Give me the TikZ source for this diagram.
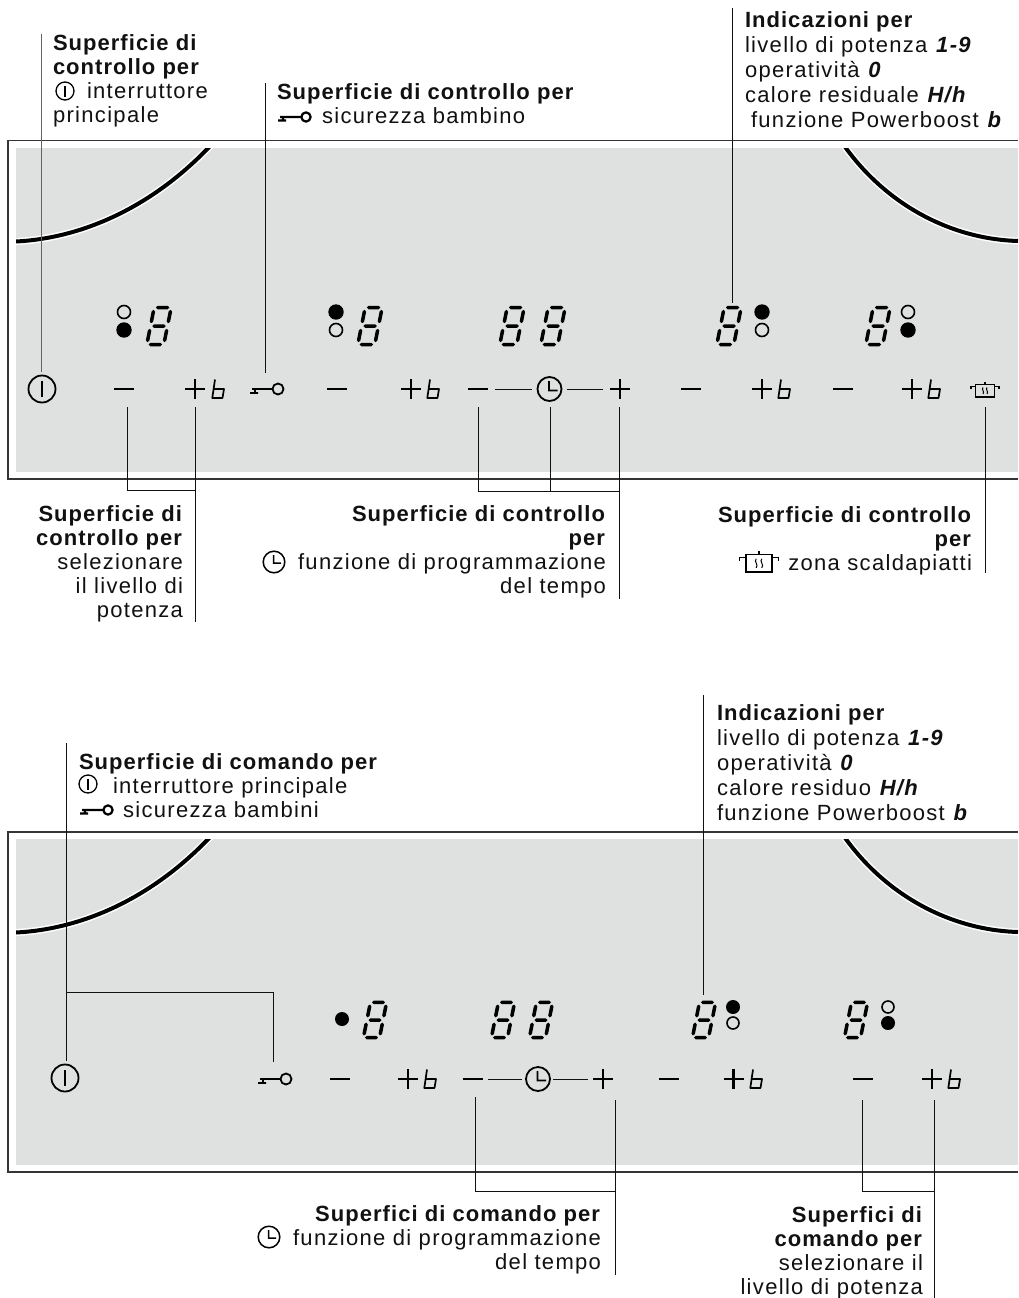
\documentclass[tikz,border=0pt]{standalone}
\usepackage{fontspec}
\setmainfont{Liberation Sans}[LetterSpace=6,BoldFeatures={LetterSpace=4.7}]
\definecolor{panel}{HTML}{DFE1E0}
\definecolor{ink}{HTML}{111111}
\tikzset{
  x=1pt,y=-1pt,
  frameline/.style={draw=ink!85,line width=1.8pt},
  panelfill/.style={fill=panel,draw=none},
  hob/.style={draw=black,line width=4pt},
  hobhalo/.style={draw=white,line width=7pt},
  leader/.style={draw=ink,line width=1pt},
  softleader/.style={draw=ink!65,line width=1.1pt},
  label/.style={inner sep=0pt,outer sep=0pt,text=ink,font=\fontsize{22}{24}\selectfont},
  lleft/.style={label,anchor=base west,align=left},
  lright/.style={label,anchor=base east,align=right},
  wide lines/.style={font=\fontsize{22}{25}\selectfont},
  seg/.style={draw=black,line width=3.5pt,line cap=round},
  sym/.style={draw=black,line width=2.2pt},
  thin sym/.style={draw=black,line width=1.7pt},
  digit/.pic={
    \begin{scope}[xslant=0.2]
      \draw[seg] (-5,-18.5)--(5,-18.5) (-5,0)--(5,0) (-5,18.5)--(5,18.5)
        (-8.5,-14.5)--(-8.5,-4.5) (8.5,-14.5)--(8.5,-4.5) (-8.5,4.5)--(-8.5,14.5) (8.5,4.5)--(8.5,14.5);
    \end{scope}},
  minus/.pic={\draw[sym] (-10,0)--(10,0);},
  plus/.pic={\draw[sym] (-10,0)--(10,0) (0,-10)--(0,10);},
  boost/.pic={\draw[thin sym,line join=round] (-3,-9.5)--(-5.7,9)--(4.5,9)--(6,0)--(-4.3,0);},
  poweron/.pic={\draw[draw=black,line width=1.8pt] (0,0) circle (13.5); \draw[sym,line width=2.6pt] (0,-8)--(0,8);},
  powersmall/.pic={\draw[draw=black,line width=1.3pt] (0,0) circle (9); \draw[draw=black,line width=1.4pt] (0,-5.5)--(0,5.5);},
  keysym/.pic={\draw[draw=black,line width=1.8pt] (13,0) circle (5.5) (-13,0)--(7.5,0) (-10,0)--(-10,4) (-15,4)--(-7,4);},
  keybold/.pic={\draw[draw=black,line width=2.2pt] (13,0) circle (4.6) (-13,0)--(8.4,0) (-10,0)--(-10,3.5) (-15,3.5)--(-7,3.5);},
  clocksym/.pic={\draw[draw=black,line width=1.8pt] (0,0) circle (12) (-0.5,-8)--(-0.5,1.5)--(8,1.5);},
  clocksmall/.pic={\draw[draw=black,line width=1.5pt] (0,0) circle (10.8) (-0.5,-7)--(-0.5,1)--(7,1);},
  potsym/.pic={\draw[thin sym] (-9.5,-6) rectangle (9.5,6.5) (-14,-1.5)--(-14,-4)--(-9.5,-4) (14,-1.5)--(14,-4)--(9.5,-4) (0,-6)--(0,-8.5);
    \draw[draw=black,line width=1pt] (-2,-3) .. controls (-4,-1) and (0,1) .. (-2,3.5) (2,-3) .. controls (0,-1) and (4,1) .. (2,3.5);},
  dotfull/.pic={\fill[black] (0,0) circle (7.7);},
  dotopen/.pic={\draw[black,line width=1.6pt] (0,0) circle (6.5);},
  dotfullb/.pic={\fill[black] (0,0) circle (7);},
  dotopenb/.pic={\draw[black,line width=1.6pt] (0,0) circle (6);},
}
\newcommand{\segtxt}[1]{\textbf{\textit{#1}}}
\begin{document}
\begin{tikzpicture}
\useasboundingbox (0,0) rectangle (1018,1298);
\fill[white] (0,0) rectangle (1018,1298);

% ---------- top panel
\fill[panelfill] (16,148) rectangle (1018,472);
\draw[frameline] (1018,140.5) -- (8,140.5) -- (8,479) -- (1018,479);
\begin{scope}
  \clip (16,148) rectangle (1018,472);
  \draw[hobhalo] (16,241.5) .. controls (85,238) and (155,205) .. (212,144);
  \draw[hobhalo] (1018,241) .. controls (950,239) and (885,204) .. (843,144);
  \draw[hob] (16,241.5) .. controls (85,238) and (155,205) .. (212,144);
  \draw[hob] (1018,241) .. controls (950,239) and (885,204) .. (843,144);
\end{scope}

\pic at (159,326) {digit};
\pic at (124,312) {dotopen}; \pic at (124,330) {dotfull};
\pic at (336,312) {dotfull}; \pic at (336,330) {dotopen};
\pic at (370,326) {digit};
\pic at (512,326) {digit}; \pic at (553,326) {digit};
\pic at (729,326) {digit};
\pic at (762,312) {dotfull}; \pic at (762,330) {dotopen};
\pic at (878,326) {digit};
\pic at (908,312) {dotopen}; \pic at (908,330) {dotfull};

\pic at (42,389) {poweron};
\pic at (124,389) {minus}; \pic at (195,389) {plus}; \pic at (218,389) {boost};
\pic at (265,389) {keysym};
\pic at (337,389) {minus}; \pic at (411,389) {plus}; \pic at (433,389) {boost};
\pic at (478,389) {minus};
\pic at (549.5,389) {clocksym}; \pic at (620,389) {plus};
\coordinate (ta) at (495,389); \coordinate (tb) at (532,389);
\coordinate (tc) at (567,389); \coordinate (td) at (603,389);
\draw[leader] (ta) -- (tb); \draw[leader] (tc) -- (td);
\pic at (691,389) {minus}; \pic at (762,389) {plus}; \pic at (784,389) {boost};
\pic at (843,389) {minus}; \pic at (912,389) {plus}; \pic at (934,389) {boost};
\pic at (985,390.5) {potsym};

% top leaders
\coordinate (p1) at (41.7,34); \coordinate (p2) at (41.7,372);
\coordinate (k1) at (265.3,83); \coordinate (k2) at (265.3,373);
\coordinate (i1) at (732,8); \coordinate (i2) at (732,303);
\coordinate (m1) at (127,407); \coordinate (m2) at (127,490);
\coordinate (n1) at (195,407); \coordinate (n2) at (195,490); \coordinate (n3) at (195,622);
\coordinate (c1) at (478,407); \coordinate (c2) at (478,491);
\coordinate (c3) at (550,407); \coordinate (c4) at (550,491);
\coordinate (c5) at (619.5,407); \coordinate (c6) at (619.5,491); \coordinate (c7) at (619.5,599);
\coordinate (w1) at (985,407); \coordinate (w2) at (985,573);
\draw[softleader] (p1) -- (p2);
\draw[leader] (k1) -- (k2);
\draw[leader] (i1) -- (i2);
\draw[leader] (m1) -- (m2) -- (n2);
\draw[leader] (n1) -- (n3);
\draw[leader] (c1) -- (c2) -- (c6);
\draw[leader] (c3) -- (c4);
\draw[leader] (c5) -- (c7);
\draw[leader] (w1) -- (w2);

% top labels (anchored on the last line)
\node[lleft] (t1) at (53,122.5) {\textbf{Superficie di}\\\textbf{controllo per}\\\hspace*{34pt}interruttore\\principale};
\pic at (65,91) {powersmall};
\node[lleft] (t2) at (277,123) {\textbf{Superficie di controllo per}\\\hspace*{45pt}sicurezza bambino};
\pic at (293,117) {keybold};
\node[lleft,wide lines] (t3) at (745,127) {\textbf{Indicazioni per}\\livello di potenza \segtxt{1-9}\\operatività \segtxt{0}\\calore residuale \segtxt{H/h}\\\hspace*{6pt}funzione Powerboost \segtxt{b}};
\node[lright] (t4) at (183,617) {\textbf{Superficie di}\\\textbf{controllo per}\\selezionare\\il livello di\\potenza};
\node[lright] (t5) at (606,593) {\textbf{Superficie di controllo}\\\textbf{per}\\funzione di programmazione\\del tempo};
\pic at (274,562) {clocksmall};
\node[lright] (t6) at (972,570) {\textbf{Superficie di controllo}\\\textbf{per}\\zona scaldapiatti};
\pic[scale=1.4] at (759,563) {potsym};

% ---------- bottom panel
\fill[panelfill] (16,839) rectangle (1018,1165);
\draw[frameline] (1018,832) -- (8,832) -- (8,1172) -- (1018,1172);
\begin{scope}
  \clip (16,839) rectangle (1018,1165);
  \draw[hobhalo] (16,932.5) .. controls (85,929) and (155,896) .. (212,835);
  \draw[hobhalo] (1018,932) .. controls (950,930) and (885,895) .. (843,835);
  \draw[hob] (16,932.5) .. controls (85,929) and (155,896) .. (212,835);
  \draw[hob] (1018,932) .. controls (950,930) and (885,895) .. (843,835);
\end{scope}

\pic at (342,1019) {dotfullb};
\pic[scale=.95] at (375,1020) {digit};
\pic[scale=.95] at (503,1020) {digit}; \pic[scale=.95] at (541,1020) {digit};
\pic[scale=.95] at (704,1020) {digit};
\pic at (733,1007) {dotfullb}; \pic at (733,1023) {dotopenb};
\pic[scale=.95] at (856,1020) {digit};
\pic at (888,1007) {dotopenb}; \pic at (888,1023) {dotfullb};

\pic at (65,1078) {poweron};
\pic at (273,1079) {keysym};
\pic at (340,1079) {minus}; \pic at (408,1079) {plus}; \pic at (430,1079) {boost};
\pic at (472.5,1079) {minus};
\pic at (538,1079) {clocksym}; \pic at (603,1079) {plus};
\coordinate (ua) at (488,1079); \coordinate (ub) at (522,1079);
\coordinate (uc) at (553,1079); \coordinate (ud) at (588,1079);
\draw[leader] (ua) -- (ub); \draw[leader] (uc) -- (ud);
\pic at (669,1079) {minus}; \pic at (733.5,1079) {plus}; \pic at (756,1079) {boost};
\pic at (863,1079) {minus}; \pic at (932,1079) {plus}; \pic at (954,1079) {boost};

% bottom leaders
\coordinate (q1) at (66,743); \coordinate (q2) at (66,1061); \coordinate (q3) at (66,992);
\coordinate (q4) at (273,992); \coordinate (q5) at (273,1062);
\coordinate (j1) at (703.5,695); \coordinate (j2) at (703.5,995);
\coordinate (d1) at (475,1097); \coordinate (d2) at (475,1191); \coordinate (d3) at (615,1191);
\coordinate (d4) at (615,1100); \coordinate (d5) at (615,1275);
\coordinate (e1) at (862,1100); \coordinate (e2) at (862,1191); \coordinate (e3) at (934,1191);
\coordinate (e4) at (934,1100); \coordinate (e5) at (934,1298);
\draw[leader] (q1) -- (q2);
\draw[leader] (q3) -- (q4) -- (q5);
\draw[leader] (j1) -- (j2);
\draw[leader] (d1) -- (d2) -- (d3);
\draw[leader] (d4) -- (d5);
\draw[leader] (e1) -- (e2) -- (e3);
\draw[leader] (e4) -- (e5);

% bottom labels
\node[lleft] (b1) at (79,817) {\textbf{Superficie di comando per}\\\hspace*{34pt}interruttore principale\\\hspace*{44pt}sicurezza bambini};
\pic at (88,784) {powersmall};
\pic at (95,810) {keybold};
\node[lleft,wide lines] (b2) at (717,820) {\textbf{Indicazioni per}\\livello di potenza \segtxt{1-9}\\operatività \segtxt{0}\\calore residuo \segtxt{H/h}\\funzione Powerboost \segtxt{b}};
\node[lright] (b3) at (601,1269) {\textbf{Superfici di comando per}\\funzione di programmazione\\del tempo};
\pic at (269,1237) {clocksmall};
\node[lright] (b4) at (923,1294) {\textbf{Superfici di}\\\textbf{comando per}\\selezionare il\\livello di potenza};
\end{tikzpicture}
\end{document}
